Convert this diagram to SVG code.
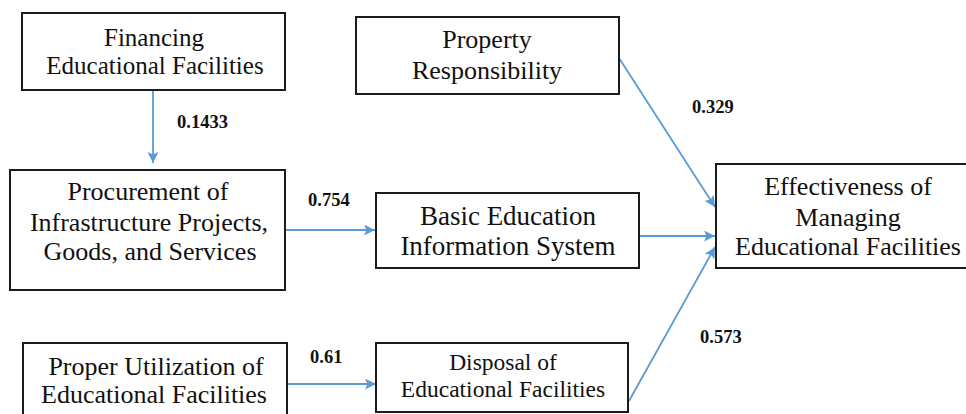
<svg xmlns="http://www.w3.org/2000/svg" width="966" height="414" viewBox="0 0 966 414">
  <defs>
    <marker id="arrow" markerUnits="userSpaceOnUse" markerWidth="12" markerHeight="12" refX="11" refY="5.5" orient="auto">
      <path d="M0,0 L11,5.5 L0,11 L2.5,5.5 Z" fill="#5B9BD5"/>
    </marker>
    <style>
      .box { fill: #ffffff; stroke: #1c1c1c; stroke-width: 2; }
      text { font-family: 'Liberation Serif', 'Times New Roman', serif; }
      .lbl { font-size: 26px; fill: #111; text-anchor: middle; }
      .sm { font-size: 23.5px; }
      .mid { font-size: 25px; }
      .wide { font-size: 27px; }
      .coef { font-size: 18.5px; font-weight: bold; fill: #111; }
      .conn { fill: none; stroke: #5B9BD5; stroke-width: 1.8; marker-end: url(#arrow); }
    </style>
  </defs>
  <rect width="966" height="414" fill="#ffffff"/>

  <!-- connectors with their path coefficients -->
  <g id="connectors">
    <line class="conn" x1="153" y1="90" x2="153" y2="163"/>
    <line class="conn" x1="285" y1="230" x2="375" y2="230"/>
    <line class="conn" x1="287" y1="384" x2="376" y2="384"/>
    <line class="conn" x1="619" y1="58" x2="715" y2="207"/>
    <line class="conn" x1="639" y1="236" x2="715" y2="236"/>
    <line class="conn" x1="629" y1="401" x2="715" y2="247"/>
    <text class="coef" x="177" y="128">0.1433</text>
    <text class="coef" x="308" y="206">0.754</text>
    <text class="coef" x="310" y="363">0.61</text>
    <text class="coef" x="692" y="113">0.329</text>
    <text class="coef" x="700" y="343">0.573</text>
  </g>

  <g id="financing">
    <rect class="box" x="22" y="13" width="263" height="77"/>
    <text class="lbl mid"><tspan x="154" y="46">Financing</tspan><tspan x="155" y="74">Educational Facilities</tspan></text>
  </g>

  <g id="procurement">
    <rect class="box" x="10" y="170" width="275" height="120"/>
    <text class="lbl"><tspan x="148" y="200">Procurement of</tspan><tspan x="149" y="231">Infrastructure Projects,</tspan><tspan x="150" y="260">Goods, and Services</tspan></text>
  </g>

  <g id="utilization">
    <rect class="box" x="23" y="343" width="264" height="80"/>
    <text class="lbl"><tspan x="156" y="375">Proper Utilization of</tspan><tspan x="154" y="403">Educational Facilities</tspan></text>
  </g>

  <g id="property">
    <rect class="box" x="356" y="17" width="263" height="77"/>
    <text class="lbl"><tspan x="487" y="48">Property</tspan><tspan x="487" y="79">Responsibility</tspan></text>
  </g>

  <g id="beis">
    <rect class="box" x="376" y="193" width="263" height="75"/>
    <text class="lbl wide"><tspan x="508" y="225">Basic Education</tspan><tspan x="508" y="255">Information System</tspan></text>
  </g>

  <g id="disposal">
    <rect class="box" x="376" y="343" width="252" height="69"/>
    <text class="lbl sm"><tspan x="503" y="370">Disposal of</tspan><tspan x="503" y="397">Educational Facilities</tspan></text>
  </g>

  <g id="effectiveness">
    <rect class="box" x="716" y="164" width="264" height="104"/>
    <text class="lbl"><tspan x="848" y="195">Effectiveness of</tspan><tspan x="848" y="226">Managing</tspan><tspan x="848" y="255">Educational Facilities</tspan></text>
  </g>
</svg>
